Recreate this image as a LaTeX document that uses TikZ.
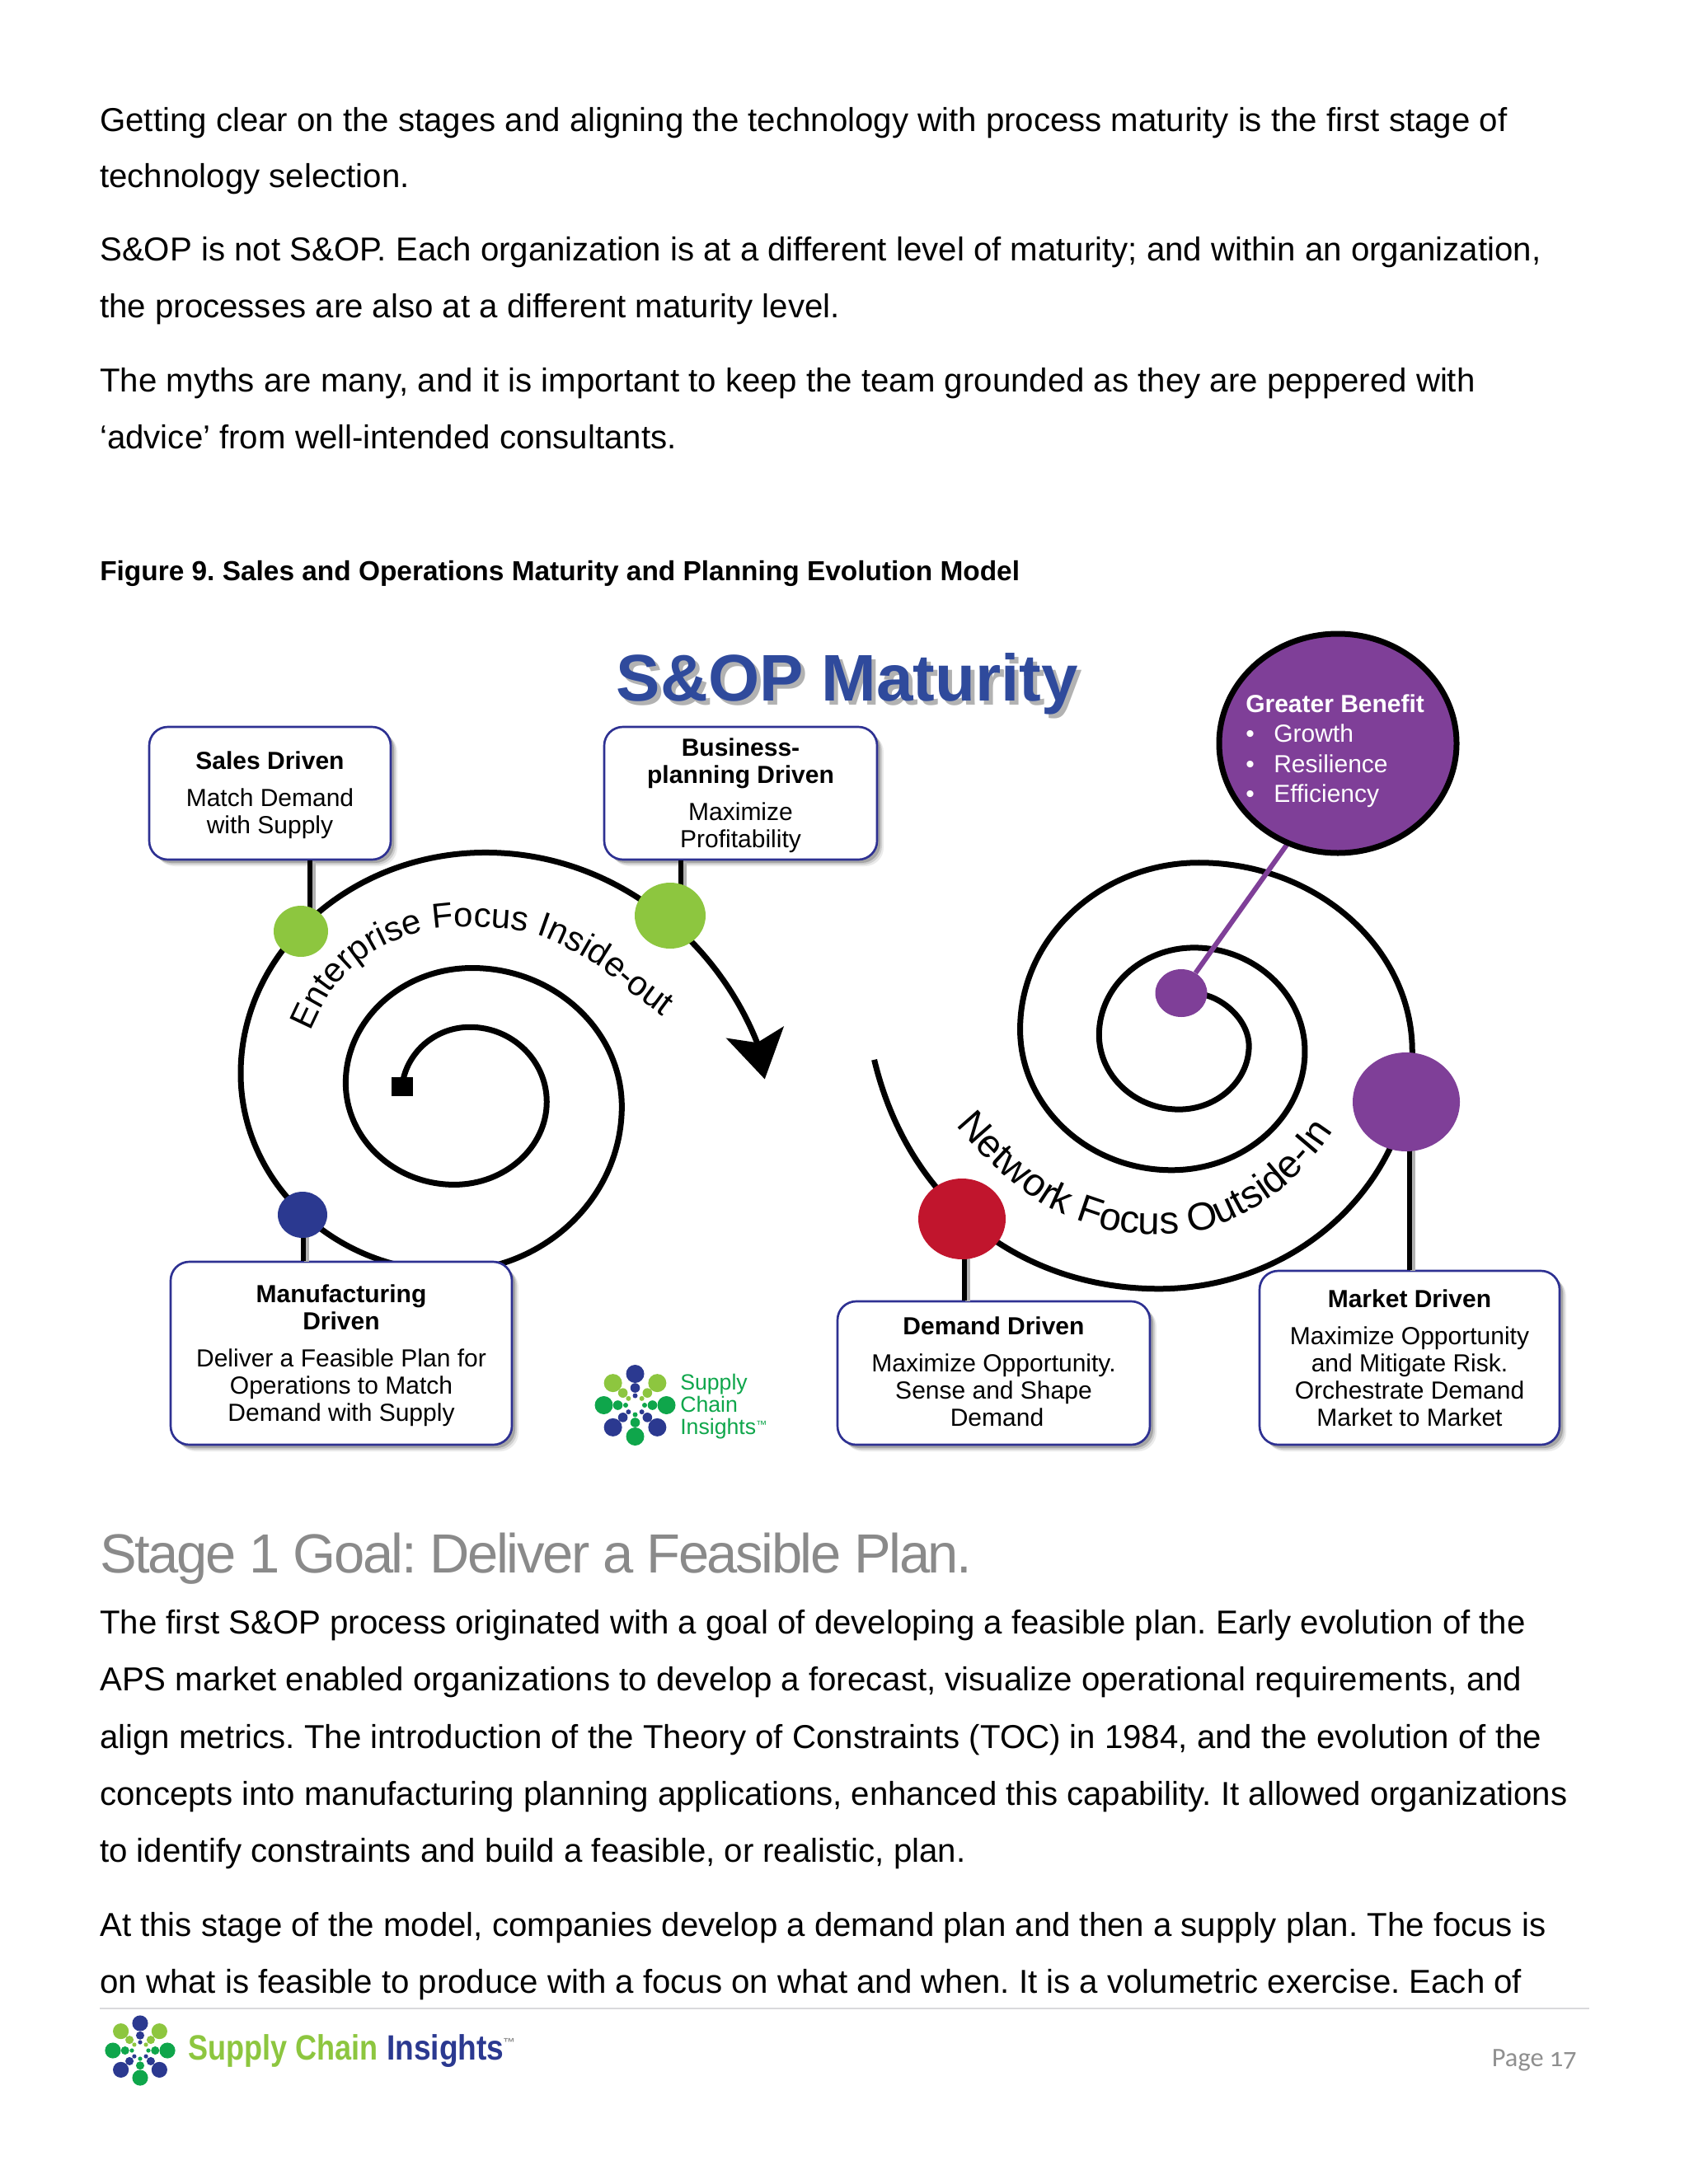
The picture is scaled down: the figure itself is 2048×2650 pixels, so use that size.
\documentclass[tikz,border=0pt]{standalone}
\usepackage{fontspec}
\setmainfont{Liberation Sans}
\newfontfamily\headfont[LetterSpace=-3.7]{Liberation Sans}
\newfontfamily\pagefont[Numbers=OldStyle]{Carlito}
\usetikzlibrary{shapes.geometric,shadows,decorations.text,calc}
\definecolor{navyline}{HTML}{2E3192}
\definecolor{titleblue}{HTML}{2F4A9C}
\definecolor{dotgreen}{HTML}{8DC63F}
\definecolor{dotnavy}{HTML}{2B3990}
\definecolor{dotred}{HTML}{C1152D}
\definecolor{dotpurple}{HTML}{7F3F98}
\definecolor{logogreen}{HTML}{0FA64B}
\definecolor{headgray}{HTML}{8A8A8A}
\definecolor{pagegray}{HTML}{8F8F8F}
\definecolor{rulegray}{HTML}{D9D9DC}
\tikzset{
  x=0.75pt,y=-0.75pt,
  bodytext/.style={anchor=base west,inner sep=0pt,font=\fontsize{30.15}{36}\selectfont},
  infobox/.style={draw=navyline,line width=2pt,fill=white,rounded corners=17pt,align=center,inner sep=0pt,
    font=\fontsize{22.5}{24.75}\selectfont,
    drop shadow={shadow xshift=6pt,shadow yshift=-6pt,fill=black,opacity=.08},
    drop shadow={shadow xshift=4.5pt,shadow yshift=-4.5pt,fill=black,opacity=.12},
    drop shadow={shadow xshift=3pt,shadow yshift=-3pt,fill=black,opacity=.2}},
  spiral/.style={draw=black,line width=5.25pt},
  stem/.style={draw=black,line width=4.5pt,preaction={draw=black!30,line width=4.5pt,transform canvas={xshift=3pt,yshift=-1pt}}},
  stagedot/.style={ellipse,inner sep=0pt},
  benefit/.style={anchor=base west,inner sep=0pt,text=white,font=\fontsize{22.5}{25}\selectfont},
  scilogo/.pic={
    \foreach \a/\c in {90/dotnavy,45/dotgreen,0/logogreen,-45/dotnavy,-90/logogreen,-135/dotnavy,180/logogreen,135/dotgreen}{
      \fill[\c] ({38*cos(\a)},{-38*sin(\a)}) circle (11);
      \fill[\c] ({21*cos(\a)},{-21*sin(\a)}) circle (5.8);
      \fill[\c] ({11.5*cos(\a)},{-11.5*sin(\a)}) circle (3);
    }
  },
}
\begin{document}
\frenchspacing
\begin{tikzpicture}
\useasboundingbox (0,0) rectangle (2048,2650);
% body text
\node[bodytext] (t1) at (121,160) {Getting clear on the stages and aligning the technology with process maturity is the first stage of};
\node[bodytext] (t2) at (121,228) {technology selection.};
\node[bodytext] (t3) at (121,317) {S\&OP is not S\&OP. Each organization is at a different level of maturity; and within an organization,};
\node[bodytext] (t4) at (121,386) {the processes are also at a different maturity level.};
\node[bodytext] (t5) at (121,475) {The myths are many, and it is important to keep the team grounded as they are peppered with};
\node[bodytext] (t6) at (121,544) {‘advice’ from well-intended consultants.};
\node[bodytext,font=\fontsize{25.06}{30}\selectfont\bfseries] (cap) at (121,704) {Figure 9. Sales and Operations Maturity and Planning Evolution Model};
% title
\node[inner sep=0pt,text=black,opacity=.3,font=\fontsize{60}{60}\selectfont\bfseries] (titleshadow) at (1033,835) {S\&OP Maturity};
\node[inner sep=0pt,text=titleblue,font=\fontsize{60}{60}\selectfont\bfseries] (title) at (1028,830) {S\&OP Maturity};
% left spiral
\begin{scope}[shift={(150,740)},x=0.4065pt,y=-0.4305pt]
  \draw[spiral] (623,1008) .. controls +(8,-70) and +(-80,0) .. (775,882)
    .. controls +(95,0) and +(0,-87) .. (947,1040)
    .. controls +(0,96) and +(114,0) .. (740,1215)
    .. controls +(-134,0) and +(0,118) .. (497,1000)
    .. controls +(0,-134) and +(-156,0) .. (780,757)
    .. controls +(184,0) and +(0,-161) .. (1115,1050)
    .. controls +(0,191) and +(212,0) .. (730,1398)
    .. controls +(-257,0) and +(0,230) .. (262,980)
    .. controls +(0,-257) and +(-301,0) .. (810,513)
    .. controls (1100,513) and (1330,700) .. (1420,920);
  \fill[black] (600,988) rectangle (647,1028);
  \fill[black] (1435,992) -- (1348,905) -- (1418,915) -- (1478,880) -- cycle;
  \path[decorate,decoration={text along path,text align=center,text={|\fontsize{31.5}{31.5}\selectfont|Enterprise Focus Inside-out}}]
    plot[smooth,tension=.6] coordinates {(395,925)(415,895)(470,800)(560,722)(690,675)(820,672)(930,688)(1050,745)(1130,805)(1215,865)(1240,885)};
\end{scope}
% right spiral
\begin{scope}[shift={(1000,740)},x=0.4545pt,y=-0.5023pt]
  \draw[spiral] (740,695) .. controls (790,695) and +(0,-50) .. (850,790)
    .. controls +(0,63) and +(77,0) .. (710,905)
    .. controls +(-88,0) and +(0,74) .. (550,770)
    .. controls +(0,-87) and +(-104,0) .. (740,612)
    .. controls +(122,0) and +(0,-103) .. (962,800)
    .. controls +(0,118) and +(147,0) .. (695,1015)
    .. controls +(-167,0) and +(0,140) .. (392,760)
    .. controls +(0,-166) and +(-197,0) .. (750,458)
    .. controls +(235,0) and +(0,-188) .. (1177,800)
    .. controls +(0,236) and +(279,0) .. (670,1230)
    .. controls (400,1230) and (170,1080) .. (100,815);
  \path[decorate,decoration={text along path,text align=center,text={|\fontsize{35.5}{35.5}\selectfont|Network Focus Outside-In}}]
    plot[smooth,tension=.6] coordinates {(225,885)(255,925)(330,1000)(400,1052)(465,1090)(580,1125)(700,1130)(790,1115)(900,1060)(980,990)(1025,935)(1055,895)};
\end{scope}
% boxes
\node[infobox,minimum width=219.75pt,minimum height=120.75pt] (bSales) at (327.5,962.5) {\rule{0pt}{19pt}\textbf{Sales Driven}\\[9pt]Match Demand\\with Supply};
\node[infobox,minimum width=248.25pt,minimum height=120.75pt] (bBiz) at (898.5,962.5) {\rule{0pt}{20pt}\textbf{Business-}\\\textbf{planning Driven}\\[9pt]Maximize\\Profitability};
\node[infobox,minimum width=310.5pt,minimum height=166.5pt] (bMfg) at (414,1642) {\rule{0pt}{21pt}\textbf{Manufacturing}\\\textbf{Driven}\\[9pt]Deliver a Feasible Plan for\\Operations to Match\\Demand with Supply};
\node[infobox,minimum width=284.25pt,minimum height=130.5pt] (bDem) at (1205.5,1666) {\textbf{Demand Driven}\\[9pt]Maximize Opportunity.\\Sense and Shape\\\hspace*{6pt}Demand\rule[-3pt]{0pt}{3pt}};
\node[infobox,minimum width=273pt,minimum height=158.25pt] (bMkt) at (1710,1647.5) {\textbf{Market Driven}\\[9pt]Maximize Opportunity\\and Mitigate Risk.\\Orchestrate Demand\\Market to Market};
% stems
\coordinate (cS) at (375.5,1130);
\coordinate (cB) at (826,1111);
\coordinate (cN) at (368,1474);
\coordinate (cR) at (1170,1479);
\coordinate (cM) at (1710,1337);
\draw[stem] (cS) -- (cS |- bSales.south);
\draw[stem] (cB) -- (cB |- bBiz.south);
\draw[stem] (cN) -- (cN |- bMfg.north);
\draw[stem] (cR) -- (cR |- bDem.north);
\draw[stem] (cM) -- (cM |- bMkt.north);
% stage dots
\node[stagedot,fill=dotgreen,minimum width=49.5pt,minimum height=46.5pt] (dS) at (365,1130) {};
\node[stagedot,fill=dotgreen,minimum width=64.5pt,minimum height=60pt] (dB) at (813,1111) {};
\node[stagedot,fill=dotnavy,minimum width=45pt,minimum height=42pt] (dN) at (367,1474) {};
\node[stagedot,fill=dotred,minimum width=79.5pt,minimum height=73.5pt] (dR) at (1167,1479) {};
\node[stagedot,fill=dotpurple,minimum width=97.5pt,minimum height=90pt] (dM) at (1706,1337) {};
\node[stagedot,fill=dotpurple,minimum width=47.25pt,minimum height=43.5pt] (dC) at (1433,1205) {};
% benefit circle
\coordinate (cBen) at (1566,1018);
\draw[draw=dotpurple,line width=4.5pt] (cBen) -- (dC);
\node[stagedot,fill=dotpurple,draw=black,line width=5.25pt,minimum width=216pt,minimum height=199.5pt] (ben) at (1623,902) {};
\node[benefit,font=\fontsize{22.5}{25}\selectfont\bfseries] (b0) at (1511,864) {Greater Benefit};
\node[benefit] (b1) at (1545,900) {Growth};
\node[benefit] (b2) at (1545,937) {Resilience};
\node[benefit] (b3) at (1545,973) {Efficiency};
\node[benefit] (bu1) at (1511,900) {•};
\node[benefit] (bu2) at (1511,937) {•};
\node[benefit] (bu3) at (1511,973) {•};
% small logo
\pic at (770.5,1705) {scilogo};
\node[anchor=base west,inner sep=0pt,text=logogreen,font=\fontsize{20}{20}\selectfont] (l1) at (825,1686) {Supply};
\node[anchor=base west,inner sep=0pt,text=logogreen,font=\fontsize{20}{20}\selectfont] (l2) at (825,1713) {Chain};
\node[anchor=base west,inner sep=0pt,text=logogreen,font=\fontsize{20}{20}\selectfont] (l3) at (825,1740) {Insights\raisebox{5pt}{\fontsize{10}{10}\selectfont ™}};
% stage text
\node[bodytext,text=headgray,font=\fontsize{50.2}{56}\headfont] (head) at (121,1908) {Stage 1 Goal: Deliver a Feasible Plan.};
\node[bodytext] (s1) at (121,1982) {The first S\&OP process originated with a goal of developing a feasible plan. Early evolution of the};
\node[bodytext] (s2) at (121,2051.5) {APS market enabled organizations to develop a forecast, visualize operational requirements, and};
\node[bodytext] (s3) at (121,2121) {align metrics. The introduction of the Theory of Constraints (TOC) in 1984, and the evolution of the};
\node[bodytext] (s4) at (121,2190) {concepts into manufacturing planning applications, enhanced this capability. It allowed organizations};
\node[bodytext] (s5) at (121,2259) {to identify constraints and build a feasible, or realistic, plan.};
\node[bodytext] (s6) at (121,2349) {At this stage of the model, companies develop a demand plan and then a supply plan. The focus is};
\node[bodytext] (s7) at (121,2418) {on what is feasible to produce with a focus on what and when. It is a volumetric exercise. Each of};
% footer
\coordinate (ruleL) at (121,2437);
\coordinate (ruleR) at (1928,2437);
\draw[rulegray,line width=2.2pt] (ruleL) -- (ruleR);
\pic[scale=.87] at (170,2488) {scilogo};
\node[anchor=base west,inner sep=0pt,text=dotgreen,font=\fontsize{32}{32}\selectfont\bfseries] (f1) at (228,2499) {\scalebox{.845}[1]{Supply Chain}};
\node[anchor=base west,inner sep=0pt,text=dotnavy,font=\fontsize{32}{32}\selectfont\bfseries] (f2) at (469,2499) {\scalebox{.87}[1]{Insights}};
\node[anchor=base west,inner sep=0pt,text=pagegray,font=\fontsize{11}{11}\selectfont\bfseries] (f3) at (610,2483) {™};
\node[anchor=base east,inner sep=0pt,text=pagegray,font=\fontsize{24.3}{24.3}\pagefont] (pg) at (1913,2507) {Page 17};
\end{tikzpicture}
\end{document}
